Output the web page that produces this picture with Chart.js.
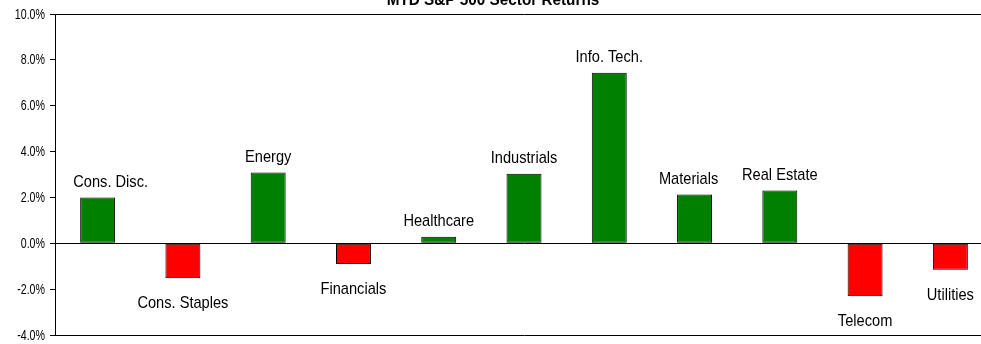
<!DOCTYPE html>
<html>
<head>
<meta charset="utf-8">
<script src="https://cdn.jsdelivr.net/npm/chart.js@4/dist/chart.umd.min.js"></script>
<style>
  html, body { margin: 0; padding: 0; background: #fff; overflow: hidden; }
  #wrap { width: 1000px; height: 344px; position: relative; }
</style>
</head>
<body>
<div id="wrap"><canvas id="chart"></canvas></div>
<script>
// MTD S&P 500 sector returns (%)
const sectors = ['Cons. Disc.', 'Cons. Staples', 'Energy', 'Financials', 'Healthcare', 'Industrials',
  'Info. Tech.', 'Materials', 'Real Estate', 'Telecom', 'Utilities'];
const returns = [2.0, -1.53, 3.09, -0.9, 0.28, 3.03, 7.44, 2.13, 2.3, -2.31, -1.15];
const yTicks = [-4, -2, 0, 2, 4, 6, 8, 10];

const fontFam = '"Liberation Sans", Arial, sans-serif';

// the source uses a tall narrow face; fake it by squeezing the canvas horizontally
function narrowText(ctx, text, x, y, font, squeeze, align) {
  ctx.save();
  ctx.font = font;
  ctx.fillStyle = '#000';
  ctx.textBaseline = 'alphabetic';
  ctx.textAlign = align;
  ctx.translate(x, y);
  ctx.scale(squeeze, 1);
  ctx.fillText(text, 0, 0);
  ctx.restore();
}

// category names sit on the bar ends instead of on the x axis
const barLabels = {
  id: 'barLabels',
  afterDatasetsDraw(chart) {
    const bars = chart.getDatasetMeta(0).data;
    bars.forEach((bar, i) => {
      let x = bar.x;
      if (i === 0) x += 13;   // nudged right like the original
      if (i === 7) x -= 6;
      const y = returns[i] >= 0 ? bar.y - 10.5 : bar.y + 30;
      narrowText(chart.ctx, sectors[i], x, y, '17px ' + fontFam, 0.86, 'center');
    });
  }
};

// y tick labels + title, drawn by hand so they can be squeezed too
const textBits = {
  id: 'textBits',
  afterDraw(chart) {
    const y = chart.scales.y;
    yTicks.forEach(v => {
      narrowText(chart.ctx, v.toFixed(1) + '%', 45, y.getPixelForValue(v) + 4.5, '14px ' + fontFam, 0.76, 'right');
    });
    narrowText(chart.ctx, 'MTD S&P 500 Sector Returns', 493, 5, 'bold 17px ' + fontFam, 0.9, 'center');
  }
};

new Chart(document.getElementById('chart'), {
  type: 'bar',
  data: {
    labels: sectors,
    datasets: [{
      data: returns,
      backgroundColor: returns.map(v => v >= 0 ? '#008000' : '#ff0000'),
      borderColor: '#000',
      borderWidth: 1,
      borderSkipped: false,
      barPercentage: 0.41,
      categoryPercentage: 1
    }]
  },
  options: {
    responsive: true,
    maintainAspectRatio: false,
    animation: false,
    layout: { padding: { top: 14, bottom: 9, right: 7, left: 0 } },
    plugins: { legend: { display: false }, tooltip: { enabled: false } },
    scales: {
      x: {
        ticks: { display: false },
        grid: { display: false, drawTicks: false },
        border: { display: true, color: '#000', width: 1 },
        afterFit(scale) { scale.height = 0; }
      },
      y: {
        min: -4,
        max: 10,
        afterBuildTicks(scale) { scale.ticks = yTicks.map(v => ({ value: v })); },
        afterFit(scale) { scale.width = 55; },
        ticks: { display: false },
        grid: {
          color: ctx => (ctx.tick && (ctx.tick.value === 0 || ctx.tick.value === 10)) ? '#000' : 'rgba(0,0,0,0)',
          tickColor: '#000',
          tickLength: 5,
          lineWidth: 1
        },
        border: { display: true, color: '#000', width: 1 }
      }
    }
  },
  plugins: [barLabels, textBits]
});
</script>
</body>
</html>
